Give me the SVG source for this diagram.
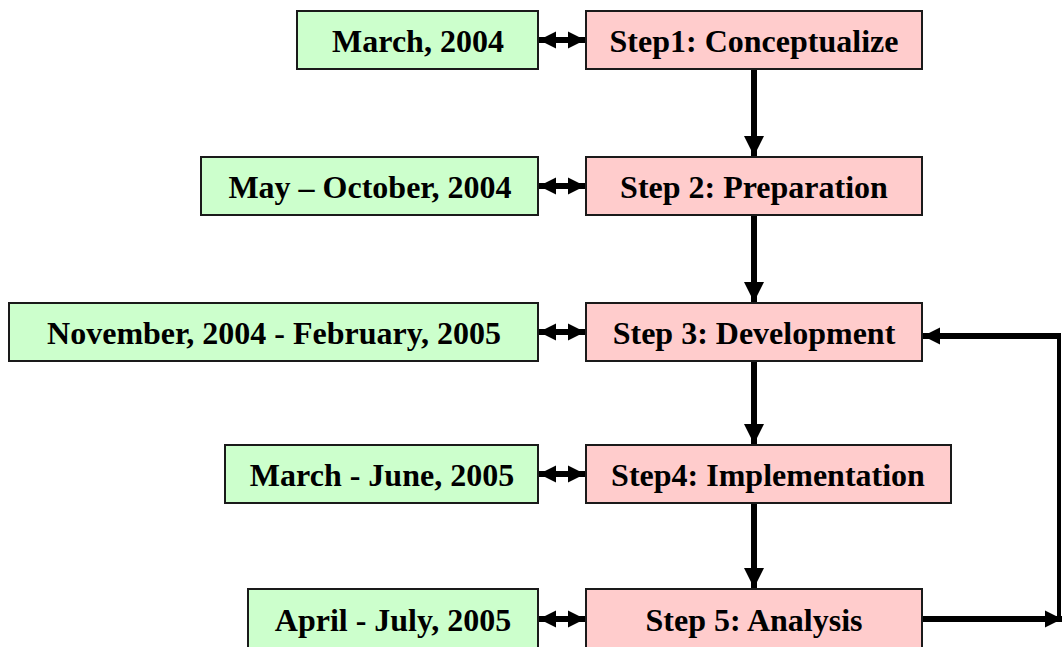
<svg xmlns="http://www.w3.org/2000/svg" width="1062" height="647" viewBox="0 0 1062 647">
  <style>
    .date rect { fill: #ccffcc; stroke: #1a1a1a; stroke-width: 2; }
    .step rect { fill: #ffcccc; stroke: #1a1a1a; stroke-width: 2; }
    text { font-family: "Liberation Serif", "Times New Roman", serif; font-weight: bold; font-size: 32px; fill: #000; text-anchor: middle; }
    .conn { stroke: #000; fill: none; }
  </style>
  <defs>
    <marker id="head" viewBox="0 0 10 10" refX="10" refY="5" markerWidth="3.4" markerHeight="3.4" orient="auto-start-reverse" markerUnits="strokeWidth">
      <path d="M0,0 L10,5 L0,10 Z" fill="#000"/>
    </marker>
    <marker id="headPair" viewBox="0 0 10 10" refX="10" refY="5" markerWidth="2.9" markerHeight="3.1" orient="auto-start-reverse" markerUnits="strokeWidth">
      <path d="M0,0 L10,5 L0,10 Z" fill="#000"/>
    </marker>
  </defs>

  <rect width="1062" height="647" fill="#fff"/>

  <!-- connectors -->
  <g id="connectors">
    <!-- date boxes to steps -->
    <line class="conn" x1="539" y1="40" x2="585" y2="40" stroke-width="6" marker-start="url(#headPair)" marker-end="url(#headPair)"/>
    <line class="conn" x1="539" y1="186" x2="585" y2="186" stroke-width="6" marker-start="url(#headPair)" marker-end="url(#headPair)"/>
    <line class="conn" x1="539" y1="332" x2="585" y2="332" stroke-width="6" marker-start="url(#headPair)" marker-end="url(#headPair)"/>
    <line class="conn" x1="539" y1="474" x2="585" y2="474" stroke-width="6" marker-start="url(#headPair)" marker-end="url(#headPair)"/>
    <line class="conn" x1="539" y1="619" x2="585" y2="619" stroke-width="6" marker-start="url(#headPair)" marker-end="url(#headPair)"/>
    <!-- step sequence -->
    <line class="conn" x1="754" y1="70" x2="754" y2="156" stroke-width="6" marker-end="url(#head)"/>
    <line class="conn" x1="754" y1="216" x2="754" y2="302" stroke-width="6" marker-end="url(#head)"/>
    <line class="conn" x1="754" y1="362" x2="754" y2="444" stroke-width="6" marker-end="url(#head)"/>
    <line class="conn" x1="754" y1="504" x2="754" y2="588" stroke-width="6" marker-end="url(#head)"/>
    <!-- feedback loop from analysis back to development -->
    <line class="conn" x1="923" y1="619" x2="1062" y2="619" stroke-width="6" marker-end="url(#headPair)"/>
    <line class="conn" x1="1059" y1="619" x2="1059" y2="334" stroke-width="4"/>
    <line class="conn" x1="1061" y1="336" x2="923" y2="336" stroke-width="6" marker-end="url(#headPair)"/>
  </g>

  <!-- timeline dates -->
  <g id="date1" class="date"><rect x="297" y="11" width="241" height="58"/><text x="418" y="52">March, 2004</text></g>
  <g id="date2" class="date"><rect x="201" y="157" width="337" height="58"/><text x="370" y="198">May – October, 2004</text></g>
  <g id="date3" class="date"><rect x="9" y="303" width="529" height="58"/><text x="274" y="344">November, 2004 - February, 2005</text></g>
  <g id="date4" class="date"><rect x="225" y="445" width="313" height="58"/><text x="382" y="486">March - June, 2005</text></g>
  <g id="date5" class="date"><rect x="248" y="589" width="290" height="60"/><text x="393" y="631">April - July, 2005</text></g>

  <!-- process steps -->
  <g id="step1" class="step"><rect x="586" y="11" width="336" height="58"/><text x="754" y="52">Step1: Conceptualize</text></g>
  <g id="step2" class="step"><rect x="586" y="157" width="336" height="58"/><text x="754" y="198">Step 2: Preparation</text></g>
  <g id="step3" class="step"><rect x="586" y="303" width="336" height="58"/><text x="754" y="344">Step 3: Development</text></g>
  <g id="step4" class="step"><rect x="586" y="445" width="365" height="58"/><text x="768" y="486">Step4: Implementation</text></g>
  <g id="step5" class="step"><rect x="586" y="589" width="336" height="60"/><text x="754" y="631">Step 5: Analysis</text></g>
</svg>
